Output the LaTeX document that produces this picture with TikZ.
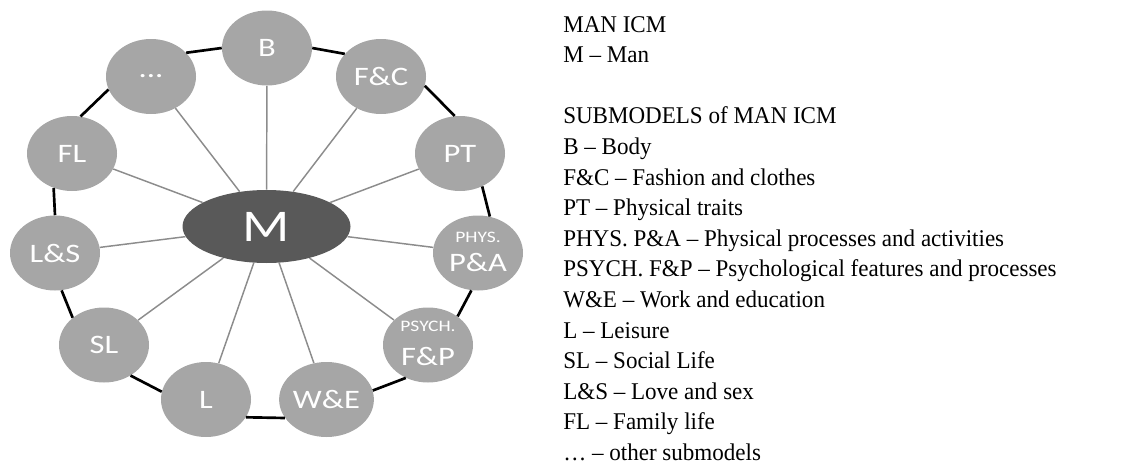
\documentclass[tikz,border=0pt]{standalone}
\usepackage{fontspec}
\usepackage{graphicx}
\setmainfont{Liberation Serif}
\newfontfamily\carlito{Carlito}
\usetikzlibrary{shapes.geometric}
\definecolor{subgray}{HTML}{A6A6A6}
\definecolor{mgray}{HTML}{595959}
\definecolor{spokegray}{HTML}{8C8C8C}
\newcommand{\stretchx}[1]{\scalebox{1.22}[1]{#1}}
\newcommand{\narrowx}[1]{\scalebox{0.96}[1]{#1}}
\tikzset{
  sub/.style={ellipse, fill=subgray, minimum width=67.5pt, minimum height=56.25pt,
    inner sep=0pt, text=white, font=\carlito\fontsize{20}{20}\selectfont},
  center/.style={ellipse, fill=mgray, minimum width=126pt, minimum height=54.75pt,
    inner sep=0pt, text=white, font=\carlito\fontsize{34}{34}\selectfont},
  smalllbl/.style={inner sep=0pt, text=white, font=\carlito\fontsize{12}{12}\selectfont},
  biglbl/.style={inner sep=0pt, text=white, font=\carlito\fontsize{20}{20}\selectfont},
  ring/.style={draw=black, line width=2pt},
  spoke/.style={draw=spokegray, line width=1.1pt},
  txt/.style={anchor=base west, inner sep=0pt, font=\fontsize{18}{20}\selectfont}
}
\begin{document}
\begin{tikzpicture}[x=0.75pt, y=-0.75pt]
\useasboundingbox (0,0) rectangle (1143,464);
% central node
\node[center] (M) at (266.5,226.5) {\stretchx{M}};
% submodels
\node[sub] (B)    at (267,48)      {\stretchx{B}};
\node[sub] (FC)   at (381,76.5)    {\stretchx{F\&C}};
\node[sub] (PT)   at (460,153.5)   {\stretchx{PT}};
\node[sub] (PA)   at (478,253)     {};
\node[sub] (FP)   at (428,345)     {};
\node[sub] (WE)   at (326.5,399.5) {\stretchx{W\&E}};
\node[sub] (L)    at (206,399.5)   {\stretchx{L}};
\node[sub] (SL)   at (104,345)     {\stretchx{SL}};
\node[sub] (LS)   at (55,253)      {\stretchx{L\&S}};
\node[sub] (FL)   at (72,153.5)    {\stretchx{FL}};
\node[sub] (dots) at (151,76.5)    {\stretchx{...}};
% two-line labels
\node[smalllbl] (paTop) at ([yshift=11.5pt]PA.center) {\stretchx{PHYS.}};
\node[biglbl]   (paBot) at ([yshift=-6.75pt]PA.center) {\stretchx{P\&A}};
\node[smalllbl] (fpTop) at ([yshift=13.7pt]FP.center) {\stretchx{PSYCH.}};
\node[biglbl]   (fpBot) at ([yshift=-8.8pt]FP.center) {\stretchx{F\&P}};
% spokes
\foreach \n in {B,FC,PT,PA,FP,WE,L,SL,LS,FL,dots}
  \draw[spoke] (M) -- (\n);
% ring
\draw[ring] (dots.34)  -- (B.180);
\draw[ring] (B.0)      -- (FC.148);
\draw[ring] (FC.-12)   -- (PT.98);
\draw[ring] (PT.-56)   -- (PA.72);
\draw[ring] (PA.-100)  -- (FP.44);
\draw[ring] (FP.236)   -- (WE.11);
\draw[ring] (WE.204)   -- (L.-24);
\draw[ring] (L.170)    -- (SL.-49);
\draw[ring] (SL.139)   -- (LS.-80);
\draw[ring] (LS.90)    -- (FL.242);
\draw[ring] (FL.77)    -- (dots.197);
% legend text
\node[txt] (t1)  at (563,32)    {\narrowx{MAN ICM}};
\node[txt] (t2)  at (563,62.6)  {\narrowx{M – Man}};
\node[txt] (t3)  at (563,123.8) {\narrowx{SUBMODELS of MAN ICM}};
\node[txt] (t4)  at (563,154.4) {\narrowx{B – Body}};
\node[txt] (t5)  at (563,185)   {\narrowx{F\&C – Fashion and clothes}};
\node[txt] (t6)  at (563,215.6) {\narrowx{PT – Physical traits}};
\node[txt] (t7)  at (563,246.2) {\narrowx{PHYS. P\&A – Physical processes and activities}};
\node[txt] (t8)  at (563,276.8) {\narrowx{PSYCH. F\&P – Psychological features and processes}};
\node[txt] (t9)  at (563,307.4) {\narrowx{W\&E – Work and education}};
\node[txt] (t10) at (563,338)   {\narrowx{L – Leisure}};
\node[txt] (t11) at (563,368.6) {\narrowx{SL – Social Life}};
\node[txt] (t12) at (563,399.2) {\narrowx{L\&S – Love and sex}};
\node[txt] (t13) at (563,429.8) {\narrowx{FL – Family life}};
\node[txt] (t14) at (563,460.4) {\narrowx{… – other submodels}};
\end{tikzpicture}
\end{document}
